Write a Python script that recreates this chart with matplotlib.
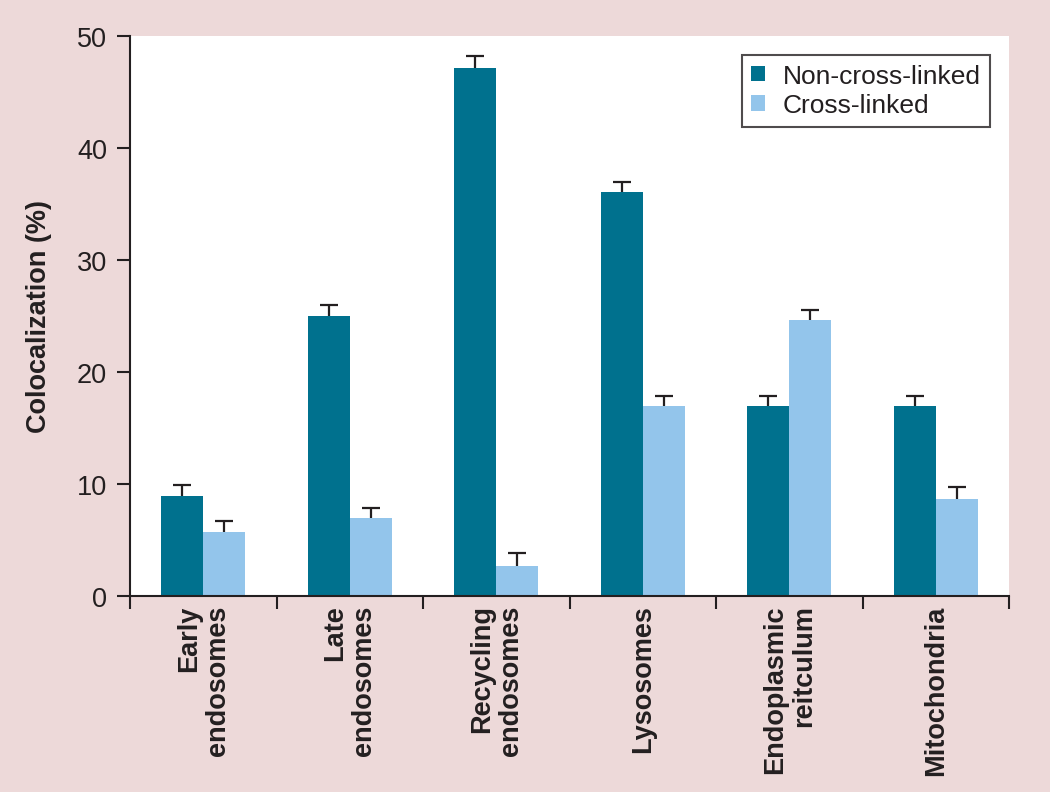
import matplotlib
matplotlib.use("Agg")
import matplotlib.pyplot as plt
from matplotlib.patches import Rectangle
import numpy as np

categories = ["Early\nendosomes", "Late\nendosomes", "Recycling\nendosomes",
              "Lysosomes", "Endoplasmic\nreitculum", "Mitochondria"]
non_cross = [8.9, 25.0, 47.1, 36.1, 17.0, 17.0]
non_cross_err = [1.0, 1.0, 1.1, 0.9, 0.9, 0.9]
cross = [5.7, 7.0, 2.7, 17.0, 24.6, 8.7]
cross_err = [1.0, 0.9, 1.1, 0.9, 0.9, 1.0]
yticks = [0, 10, 20, 30, 40, 50]

dark = "#00718E"
light = "#93C5EB"
pink = "#EDD9D9"
ink = "#231F20"

plt.rcParams['font.family'] = ['Liberation Sans', 'DejaVu Sans']
fs = 19.5

fig = plt.figure(figsize=(10.5, 8.03), dpi=100, facecolor=pink)
fig.patches.append(Rectangle((0, 0), 1, 10 / 803, transform=fig.transFigure,
                             facecolor="white", edgecolor="none", zorder=-1))
ax = fig.add_axes([130 / 1050, 1 - 597 / 803, (1009 - 130) / 1050, (597 - 37) / 803])
ax.set_facecolor("white")

x = np.arange(len(categories))
w = 0.287
n = len(categories)
ax.bar(x - w / 2, non_cross, w, color=dark, label="Non-cross-linked", zorder=2)
ax.bar(x + w / 2, cross, w, color=light, label="Cross-linked", zorder=2)
ax.errorbar(x - w / 2, non_cross, yerr=non_cross_err, fmt="none",
            ecolor=ink, elinewidth=1.6, capsize=6.5, capthick=1.6, zorder=1)
ax.errorbar(x + w / 2, cross, yerr=cross_err, fmt="none",
            ecolor=ink, elinewidth=1.6, capsize=6.5, capthick=1.6, zorder=1)

ax.set_xlim(-0.5, n - 0.5)
ax.set_ylim(0, 50)
ax.set_yticks(yticks)
ax.set_yticklabels([str(v) for v in yticks], fontsize=fs, color=ink)
ax.set_xticks(x)
ax.set_xticklabels(categories, rotation=90, fontsize=fs, fontweight="bold",
                   color=ink, ha="center", va="top", multialignment="right",
                   linespacing=1.15)
ax.set_xticks(np.arange(-0.5, n, 1.0), minor=True)
ax.tick_params(axis="x", which="major", length=0, pad=6)
ax.tick_params(axis="x", which="minor", length=9.5, width=1.5, color=ink, direction="out")
ax.tick_params(axis="y", length=9.5, width=1.5, color=ink, direction="out", pad=7)

for s in ["top", "right"]:
    ax.spines[s].set_visible(False)
for s in ["left", "bottom"]:
    ax.spines[s].set_linewidth(1.5)
    ax.spines[s].set_color(ink)

ax.set_ylabel("Colocalization (%)", fontsize=fs, fontweight="bold", color=ink, labelpad=18)

leg = ax.legend(loc="upper right", bbox_to_anchor=(0.9785, 0.9665), fontsize=19,
                frameon=True, fancybox=False, edgecolor=ink, handlelength=0.53,
                handleheight=0.53, handletextpad=0.68, borderpad=0.35, labelspacing=0.2,
                borderaxespad=0)
leg.get_frame().set_linewidth(1.5)
for t in leg.get_texts():
    t.set_color(ink)

fig.savefig("out.png", dpi=100, facecolor=pink)
